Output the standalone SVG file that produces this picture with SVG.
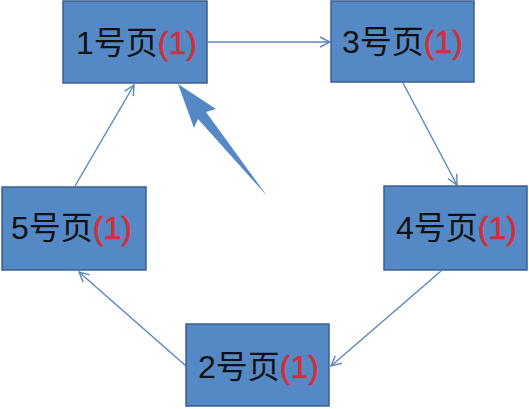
<svg xmlns="http://www.w3.org/2000/svg" width="529" height="409" viewBox="0 0 529 409">
<defs>
<marker id="ah" viewBox="0 0 12 12" refX="11" refY="6" markerWidth="12" markerHeight="12" markerUnits="userSpaceOnUse" orient="auto">
<path d="M1,1 L11,6 L1,11" fill="none" stroke="#5A86BE" stroke-width="1.4"/>
</marker>
<style>
.box{fill:#5589C6;stroke:#3B5F8C;stroke-width:1.5}
.lbl{font-family:"Liberation Sans","Noto Sans CJK SC",sans-serif;font-size:32px;fill:#111}
.red{fill:#D0303A;stroke:#D0303A;stroke-width:0.6}
.con{fill:none;stroke:#5A86BE;stroke-width:1.4;marker-end:url(#ah)}
</style>
</defs>
<rect width="529" height="409" fill="#fff"/>
<g id="connectors">
<line class="con" x1="208" y1="42" x2="330" y2="42"/>
<line class="con" x1="403" y1="83" x2="457" y2="185"/>
<line class="con" x1="441" y1="271" x2="331" y2="366"/>
<line class="con" x1="186" y1="366" x2="79" y2="272"/>
<line class="con" x1="75" y1="186" x2="134" y2="85"/>
<polygon points="178,84 216,109 206,112 267,196 198,119 194,128" fill="#5589C6"/>
</g>
<g id="node1">
<rect class="box" x="63" y="1" width="144" height="82"/>
<text class="lbl" x="76" y="54">1号页<tspan class="red">(1)</tspan></text>
</g>
<g id="node3">
<rect class="box" x="331" y="1" width="143" height="81"/>
<text class="lbl" x="342" y="53">3号页<tspan class="red">(1)</tspan></text>
</g>
<g id="node4">
<rect class="box" x="384" y="186" width="143" height="84"/>
<text class="lbl" x="396" y="239">4号页<tspan class="red">(1)</tspan></text>
</g>
<g id="node5">
<rect class="box" x="2" y="187" width="144" height="83"/>
<text class="lbl" x="11" y="239">5号页<tspan class="red">(1)</tspan></text>
</g>
<g id="node2">
<rect class="box" x="186" y="324" width="143" height="82"/>
<text class="lbl" x="198" y="378">2号页<tspan class="red">(1)</tspan></text>
</g>
</svg>
